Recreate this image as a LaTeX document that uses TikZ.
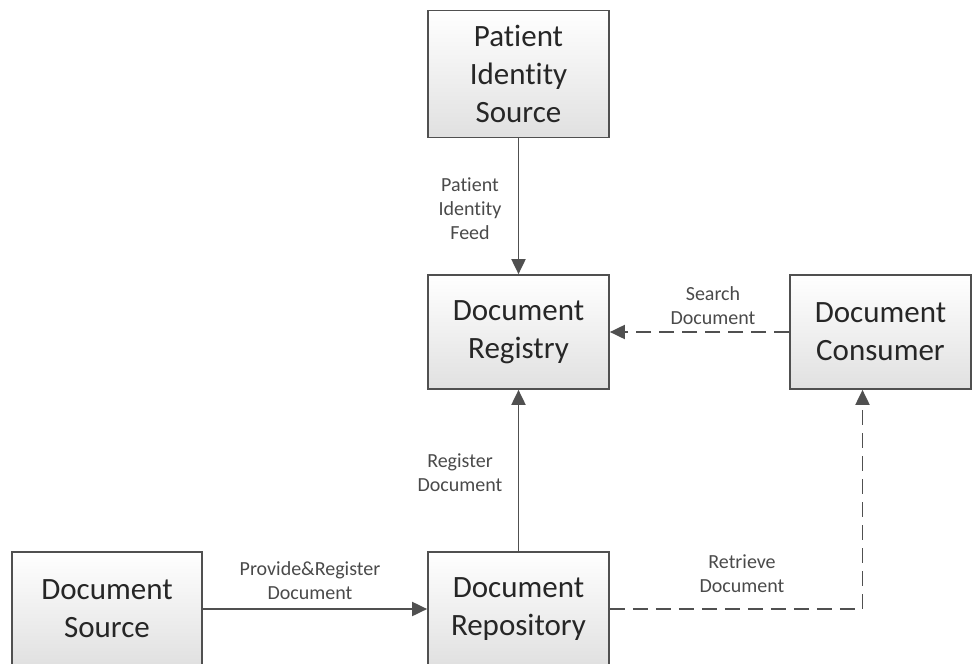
\documentclass[tikz,border=0pt]{standalone}
\usepackage{fontspec}
\setmainfont{Carlito}[Ligatures={NoCommon}]
\usetikzlibrary{arrows.meta}
\definecolor{edge}{HTML}{505050}
\definecolor{boxtext}{HTML}{262626}
\definecolor{labeltext}{HTML}{4A4A4A}
\begin{document}
\begin{tikzpicture}[x=1pt,y=-1pt,
  actor/.style={draw=edge, line width=1.7pt, top color=white, bottom color=black!12,
    minimum width=181pt, minimum height=114pt, align=center, text=boxtext,
    font=\fontsize{31}{38}\selectfont, inner sep=0pt},
  lbl/.style={align=center, text=labeltext, font=\fontsize{20}{24}\selectfont, inner sep=1pt},
  flow/.style={draw=edge, line width=1.9pt, -{Triangle[length=15pt,width=14pt]}},
  query/.style={flow, dash pattern=on 15pt off 8pt}]
\useasboundingbox (0,0) rectangle (972,664);

% actors
\node[actor, minimum height=127pt] (pis) at (518.5,74) {Patient\\Identity\\Source};
\node[actor] (reg) at (518.5,332) {Document\\Registry};
\node[actor] (con) at (880.5,332) {Document\\Consumer};
\node[actor, minimum width=190pt] (src) at (107,609) {Document\\Source};
\node[actor, minimum width=181pt] (rep) at (518.5,609) {Document\\Repository};

% transactions
\draw[flow] (pis.south) -- (reg.north);
\draw[flow] (rep.north) -- (reg.south);
\draw[flow] (src.east) -- (rep.west);
\draw[query] (con.west) -- (reg.east);
\coordinate (conin) at ([xshift=-18pt]con.south);
\draw[query] (rep.east) -| (conin);

% transaction labels
\node[lbl] (lfeed) at (470,209) {Patient\\Identity\\Feed};
\node[lbl] (lregister) at (460,473) {Register\\Document};
\node[lbl] (lsearch) at (713,306) {Search\\Document};
\node[lbl] (lprovide) at (310,581) {Provide\&Register\\Document};
\node[lbl] (lretrieve) at (742,574) {Retrieve\\Document};
\end{tikzpicture}
\end{document}
